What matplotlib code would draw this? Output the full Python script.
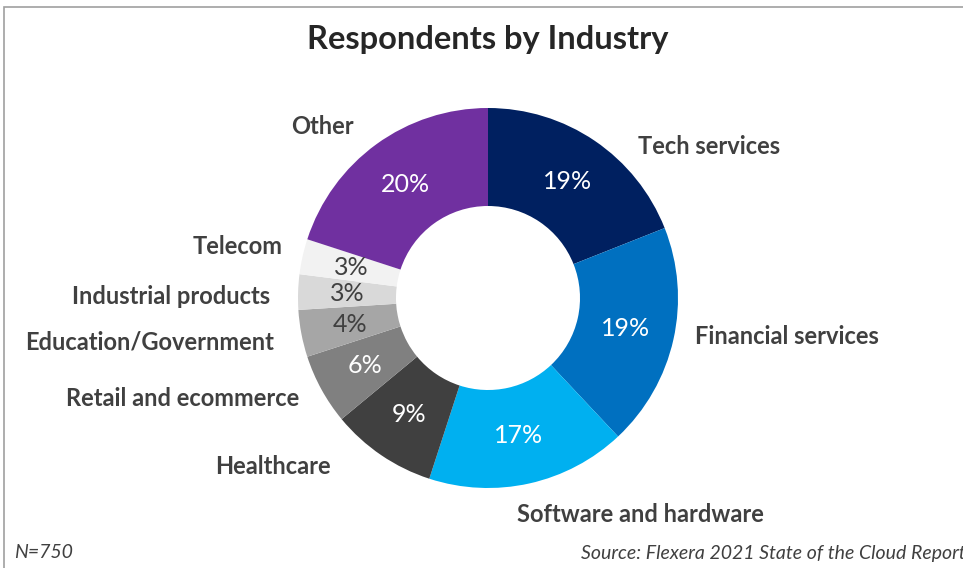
import matplotlib
matplotlib.use('Agg')
from matplotlib import pyplot as plt
from matplotlib.patches import Rectangle
import numpy as np

# data
industries = ['Tech services', 'Financial services', 'Software and hardware', 'Healthcare',
              'Retail and ecommerce', 'Education/Government', 'Industrial products',
              'Telecom', 'Other']
shares = [19, 19, 17, 9, 6, 4, 3, 3, 20]

colours = ['#002060', '#0070C0', '#00B0F0', '#404040', '#808080',
           '#A6A6A6', '#D9D9D9', '#F2F2F2', '#7030A0']
pct_colours = ['white', 'white', 'white', 'white', 'white',
               '#404040', '#404040', '#404040', 'white']

# label anchors (pixel coords, y from top) and alignment
label_pos = [(638, 146, 'left'), (695, 336, 'left'), (640, 514, 'center'),
             (331, 467, 'right'), (299, 398, 'right'), (274, 342, 'right'),
             (270, 296, 'right'), (283, 246, 'right'), (354, 127, 'right')]

W, H = 963, 568
fig = plt.figure(figsize=(W/100, H/100), dpi=100)
ax = fig.add_axes([0, 0, 1, 1])

plt.rcParams['font.family'] = ['Lato', 'DejaVu Sans']

cx, cy, r = 488, H - 298, 190
wedges, texts, autotexts = ax.pie(shares, colors=colours, startangle=90, counterclock=False,
                                  radius=r, center=(cx, cy), frame=True,
                                  wedgeprops=dict(width=98, linewidth=0),
                                  autopct='%d%%', pctdistance=0.74,
                                  textprops=dict(fontsize=18, family='Lato'))
for t, c in zip(autotexts, pct_colours):
    t.set_color(c)
ax.set_xlim(0, W)
ax.set_ylim(0, H)
ax.set_aspect('equal')
ax.axis('off')

for name, (x, y, ha) in zip(industries, label_pos):
    ax.text(x, H - y, name, ha=ha, va='center', fontsize=17, fontweight='bold',
            color='#404040', family='Lato')

ax.text(488, H - 40, 'Respondents by Industry', ha='center', va='center',
        fontsize=23.5, fontweight='bold', color='#262626', family='Lato')
ax.text(14, H - 553, 'N=750', ha='left', va='center', fontsize=14, style='italic',
        color='#404040', family='Lato')
ax.text(966, H - 553, 'Source: Flexera 2021 State of the Cloud Report', ha='right',
        va='center', fontsize=14, style='italic', color='#404040', family='Lato')

ax.add_patch(Rectangle((3.5, -20), 1000, H - 7 + 20, fill=False, edgecolor='#A0A0A0',
                       linewidth=1.2, clip_on=False))

fig.savefig('out.png', dpi=100)
